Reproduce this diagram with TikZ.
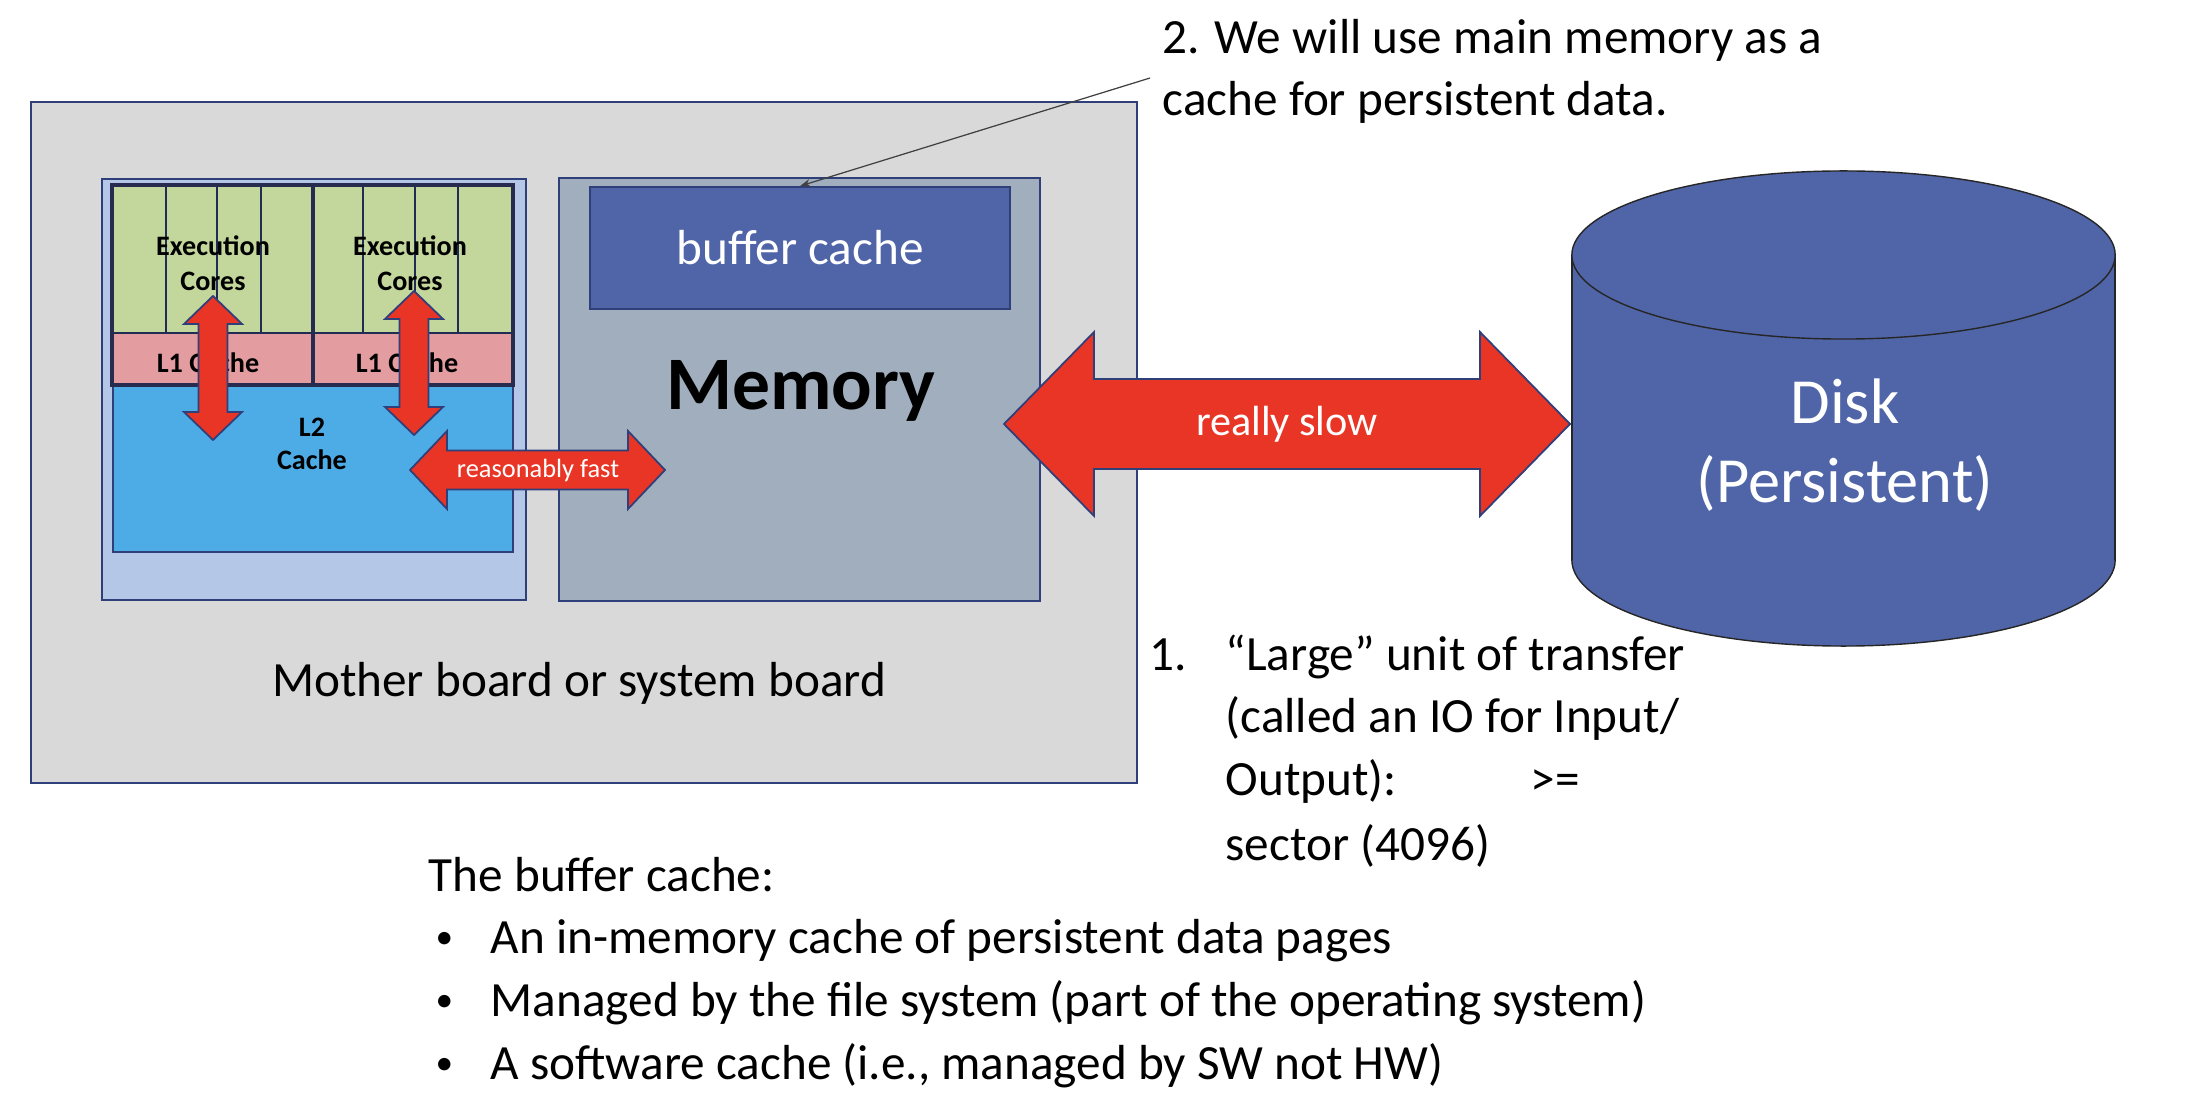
\documentclass[tikz,border=0pt]{standalone}
\usepackage{fontspec}
\setmainfont{Carlito}
\usetikzlibrary{arrows.meta,positioning}
\definecolor{boardgray}{HTML}{D9D9D9}
\definecolor{edgeblue}{HTML}{2F3F7A}
\definecolor{cpublue}{HTML}{B4C7E7}
\definecolor{coregreen}{HTML}{C3D69B}
\definecolor{lonepink}{HTML}{E39C9F}
\definecolor{ltwoblue}{HTML}{4DACE6}
\definecolor{memgray}{HTML}{A0AEBD}
\definecolor{cacheblue}{HTML}{5065A8}
\definecolor{arrowred}{HTML}{E83526}
\definecolor{framenavy}{HTML}{262B4F}
\tikzstyle{board} = [draw=edgeblue, fill=boardgray, line width=0.5pt]
\tikzstyle{memblock} = [draw=edgeblue, fill=memgray, line width=0.5pt]
\tikzstyle{cacheblock} = [draw=edgeblue, fill=cacheblue, line width=0.5pt, inner sep=0pt, text=white]
\tikzstyle{redarrow} = [draw=edgeblue, fill=arrowred, line width=0.5pt, line join=miter]
\tikzstyle{diskbody} = [draw=black!85, fill=cacheblue, line width=0.4pt]
\tikzstyle{bodytext} = [font=\fontsize{14}{18}\selectfont, inner sep=0pt, anchor=base west]
\tikzstyle{chiptext} = [font=\bfseries\fontsize{8}{10}\selectfont, inner sep=0pt, align=center]
\newcommand{\smallbullet}{\makebox[0.55cm][l]{\fontsize{10}{10}\selectfont\raisebox{0.25ex}{\textbullet}}}
% double block arrows: x1, x2, y, shaft half, head half, head length
\newcommand{\hdblarrow}[6]{%
  \draw[redarrow] (#1,#3) -- ({#1+#6},{#3-#5}) -- ({#1+#6},{#3-#4}) -- ({#2-#6},{#3-#4}) -- ({#2-#6},{#3-#5}) -- (#2,#3)
    -- ({#2-#6},{#3+#5}) -- ({#2-#6},{#3+#4}) -- ({#1+#6},{#3+#4}) -- ({#1+#6},{#3+#5}) -- cycle;}
% x, y1, y2, shaft half, head half, head length
\newcommand{\vdblarrow}[6]{%
  \draw[redarrow] (#1,#2) -- ({#1+#5},{#2+#6}) -- ({#1+#4},{#2+#6}) -- ({#1+#4},{#3-#6}) -- ({#1+#5},{#3-#6}) -- (#1,#3)
    -- ({#1-#5},{#3-#6}) -- ({#1-#4},{#3-#6}) -- ({#1-#4},{#2+#6}) -- ({#1-#5},{#2+#6}) -- cycle;}

\begin{document}
\begin{tikzpicture}[x=0.01cm, y=-0.01cm]
\fill[white] (0,0) rectangle (2204,1110);
\useasboundingbox (0,0) rectangle (2204,1110);

% mother board
\draw[board] (31,102) rectangle (1137,783);
\node[bodytext, anchor=base] (mbtext) at (579,696) {Mother board or system board};

% memory and buffer cache
\draw[memblock] (559,178) rectangle (1040,601);
\node[cacheblock, minimum width=4.2cm, minimum height=1.22cm, font=\fontsize{14}{16}\selectfont] (buf) at (800,248) {buffer cache};
\node[font=\bfseries\fontsize{21.5}{24}\selectfont, inner sep=0pt, anchor=base] (mem) at (801,410) {Memory};

% processor chip
\draw[draw=edgeblue, fill=cpublue, line width=0.5pt] (102,179) rectangle (526,600);
\draw[draw=edgeblue, fill=ltwoblue, line width=0.5pt] (113,386) rectangle (513,552);
\fill[coregreen] (113,186) rectangle (513,333);
\fill[lonepink] (113,333) rectangle (513,384);
\draw[edgeblue!70!black, line width=0.35pt] (113,333) -- (513,333);
\draw[edgeblue!70!black, line width=0.35pt] (166,186) -- (166,333) (217,186) -- (217,333) (261,186) -- (261,333)
  (363,186) -- (363,333) (415,186) -- (415,333) (458,186) -- (458,333);
\draw[framenavy, line width=1.4pt] (112,185) rectangle (513,385) (313,185) -- (313,385);
\node[chiptext] (execl) at (213,263) {Execution\\Cores};
\node[chiptext] (execr) at (410,263) {Execution\\Cores};
\node[chiptext, anchor=base] (lonel) at (208,373) {L1 Cache};
\node[chiptext, anchor=base] (loner) at (407,373) {L1 Cache};
\node[chiptext, font=\bfseries\fontsize{8}{9.5}\selectfont] (ltwo) at (312,444) {L2\\Cache};

% disk
\draw[diskbody] (1843.5,560) ellipse [x radius=2.715cm, y radius=0.86cm];
\fill[cacheblue] (1572,255) rectangle (2115,560);
\draw[black!85, line width=0.4pt] (1572,255) -- (1572,560) (2115,255) -- (2115,560);
\draw[diskbody] (1843.5,255) ellipse [x radius=2.715cm, y radius=0.84cm];
\node[text=white, font=\fontsize{18.3}{22.5}\selectfont, inner sep=0pt, align=center] (disk) at (1845,445) {Disk\\(Persistent)};

% arrows
\vdblarrow{213}{296}{440}{14.5}{29}{28}
\vdblarrow{414}{291}{435}{14.5}{29}{28}
\hdblarrow{410}{665}{470}{19.5}{39}{37}
\node[text=white, font=\fontsize{7.5}{9}\selectfont, inner sep=0pt] (fast) at (538,470) {reasonably fast};
\hdblarrow{1004}{1570}{424}{45}{92}{90}
\node[text=white, font=\fontsize{12}{14}\selectfont, inner sep=0pt, anchor=base] (slow) at (1287,436) {really slow};

% note on the buffer cache
\node[bodytext] (notea) at (1162,54) {2. We will use main memory as a};
\node[bodytext] (noteb) at (1162,116) {cache for persistent data.};
\coordinate (ptr) at (1150,78);
\draw[black!75, line width=0.35pt, -{Stealth[length=3pt,width=2.2pt]}] (ptr) -- (buf.north);

% transfer unit
\node[bodytext] (numone) at (1149,670) {1.};
\node[bodytext] (ioa) at (1225,670) {“Large” unit of transfer};
\node[bodytext] (iob) at (1225,732) {(called an IO for Input/};
\node[bodytext] (ioc) at (1225,795) {\makebox[3.05cm][l]{Output):}>=};
\node[bodytext] (iod) at (1225,860) {sector (4096)};

% buffer cache summary
\node[bodytext] (bchead) at (428,891) {The buffer cache:};
\node[bodytext] (bca) at (435,953) {\smallbullet An in-memory cache of persistent data pages};
\node[bodytext] (bcb) at (435,1016) {\smallbullet Managed by the file system (part of the operating system)};
\node[bodytext] (bcc) at (435,1079) {\smallbullet A software cache (i.e., managed by SW not HW)};
\end{tikzpicture}
\end{document}
